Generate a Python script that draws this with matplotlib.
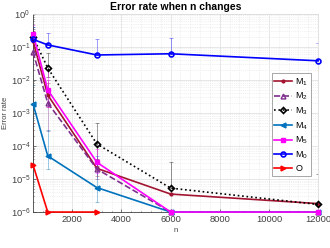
import numpy as np
import matplotlib
matplotlib.use("Agg")
import matplotlib.pyplot as plt
from matplotlib.ticker import AutoMinorLocator, LogLocator, FixedLocator

# =============================================================================
# DATOS
# =============================================================================
n = [400, 1000, 3000, 6000, 12000]
n_o = [400, 1000, 3000]

m1 = [0.15, 3.5e-3, 2.1e-5, 3.5e-6, 1.8e-6]
m2 = [0.07, 2.0e-3, 2.0e-5, 1e-6, 1e-6]
m3 = [0.20, 0.023, 1.15e-4, 5.3e-6, 1.7e-6]
m4 = [1.9e-3, 5e-5, 5.5e-6, 1e-6, 1e-6]
m5 = [0.25, 5e-3, 3.2e-5, 1e-6, 1e-6]
m0 = [0.17, 0.115, 0.057, 0.062, 0.038]
o = [2.7e-5, 1e-6, 1e-6]

# extremos de las barras de error (abajo, arriba)
m1_lo = [0.08, 1.5e-3, 1.2e-5, 3.5e-6, 1.8e-6]
m1_hi = [0.30, 8e-3, 4e-5, 3.5e-6, 1.8e-6]
m2_lo = [0.02, 2.8e-4, 1e-5, 1e-6, 1e-6]
m2_hi = [0.20, 1e-2, 4e-5, 1e-6, 1e-6]
m3_lo = [0.12, 0.0126, 2.5e-5, 5.3e-6, 1.7e-6]
m3_hi = [0.35, 0.066, 5e-4, 3.3e-5, 1.4e-5]
m4_lo = [1e-5, 2e-5, 2e-6, 1e-6, 1e-6]
m4_hi = [7e-3, 3e-4, 5e-5, 1e-6, 1e-6]
m5_lo = [0.12, 1.5e-3, 1.5e-5, 1e-6, 1e-6]
m5_hi = [0.45, 2e-2, 8e-5, 1e-6, 1e-6]
m0_lo = [0.17, 0.115, 0.057, 0.062, 0.038]
m0_hi = [0.40, 0.26, 0.17, 0.19, 0.13]
o_lo = [2.7e-5, 1e-6, 1e-6]
o_hi = [5e-4, 1e-6, 1e-6]

labels = ["M$_1$", "M$_2$", "M$_3$", "M$_4$", "M$_5$", "M$_0$", "O"]

# =============================================================================
# ESTILO
# =============================================================================
plt.rcParams['font.family'] = ['Liberation Sans', 'DejaVu Sans']
plt.rcParams['mathtext.fontset'] = 'custom'
plt.rcParams['mathtext.rm'] = 'Liberation Sans'
plt.rcParams['mathtext.default'] = 'regular'

series = [
    (n, m1, m1_lo, m1_hi, dict(color='#A2142F', ls='-', marker='.', ms=4)),
    (n, m2, m2_lo, m2_hi, dict(color='#7E2F8E', ls='--', marker='^', ms=3.5, mfc='none')),
    (n, m3, m3_lo, m3_hi, dict(color='black', ls=':', marker='D', ms=3, mfc='none', mew=1.2)),
    (n, m4, m4_lo, m4_hi, dict(color='#0072BD', ls='-', marker='<', ms=3.5)),
    (n, m5, m5_lo, m5_hi, dict(color='#FF00FF', ls='-', marker='s', ms=3)),
    (n, m0, m0_lo, m0_hi, dict(color='#0000FF', ls='-', marker='o', ms=3.5, mfc='none', mew=1.2)),
    (n_o, o, o_lo, o_hi, dict(color='#FF0000', ls='-', marker='>', ms=3.5)),
]

fig = plt.figure(figsize=(3.3, 2.48), dpi=100)
ax = fig.add_axes([0.10, 0.145, 0.864, 0.799])

for (x, y, lo, hi, st), lab in zip(series, labels):
    y = np.array(y)
    yerr = [y - np.array(lo), np.array(hi) - y]
    ax.errorbar(x, y, yerr=yerr, fmt='none', ecolor=st['color'], alpha=0.45,
                elinewidth=0.6, capsize=1.5, capthick=0.6, zorder=2)
    ax.plot(x, y, label=lab, lw=1.2, zorder=3, clip_on=False, **st)

ax.set_yscale('log')
ax.set_ylim(1e-6, 1)
ax.set_xlim(400, 12000)
ax.xaxis.set_major_locator(FixedLocator([2000, 4000, 6000, 8000, 10000, 12000]))
ax.xaxis.set_minor_locator(AutoMinorLocator(5))
ax.yaxis.set_major_locator(LogLocator(base=10, numticks=10))
ax.yaxis.set_minor_locator(LogLocator(base=10, subs=np.arange(2, 10), numticks=10))

ax.grid(True, which='major', color='#e3e3e3', lw=0.6)
ax.grid(True, which='minor', color='#e3e3e3', lw=0.5, ls=':')
ax.set_axisbelow(True)

ax.tick_params(which='both', direction='in', labelsize=6.7, colors='#404040',
               length=2, width=0.5, pad=2)
ax.tick_params(which='minor', length=1)
for s in ['left', 'bottom']:
    ax.spines[s].set_color('#404040')
    ax.spines[s].set_linewidth(0.6)
for s in ['top', 'right']:
    ax.spines[s].set_color('#dddddd')
    ax.spines[s].set_linewidth(0.6)

ax.set_title("Error rate when n changes", fontsize=7.5, fontweight='bold', pad=3)
ax.set_xlabel("n", fontsize=5.5, color='#404040', labelpad=2)
ax.set_ylabel("Error rate", fontsize=5.5, color='#404040', labelpad=1)

leg = ax.legend(loc='upper right', bbox_to_anchor=(0.975, 0.70), fontsize=6.5,
                handlelength=1.9, handletextpad=0.4, labelspacing=0.35,
                borderpad=0.3, borderaxespad=0, fancybox=False, framealpha=1)
leg.get_frame().set_edgecolor('#999999')
leg.get_frame().set_linewidth(0.6)

plt.savefig("out.png", dpi=100)
